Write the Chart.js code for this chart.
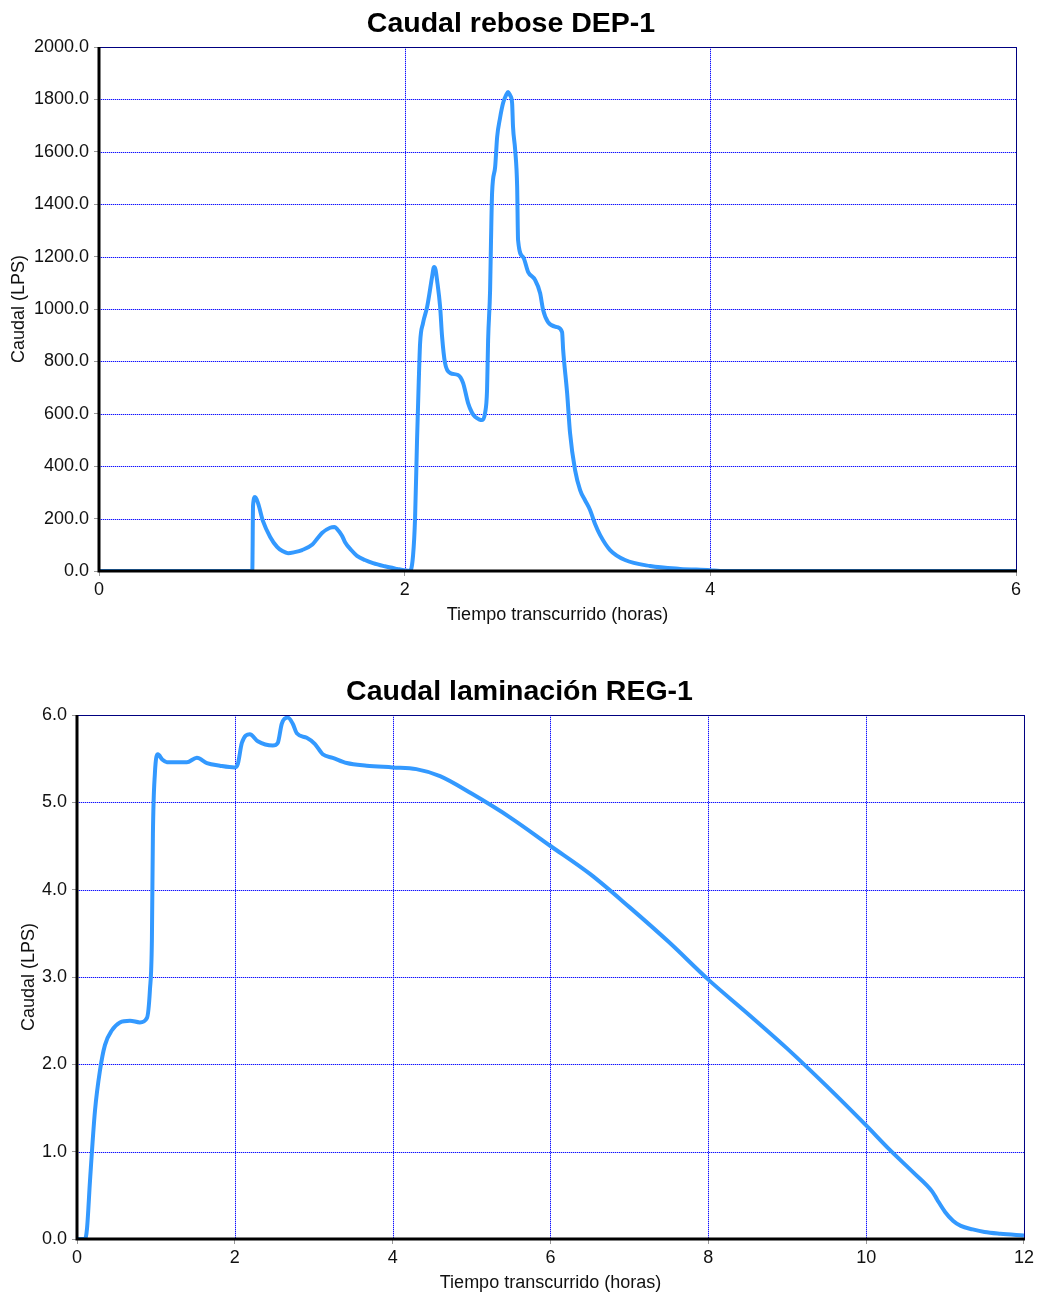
<!DOCTYPE html>
<html>
<head>
<meta charset="utf-8">
<script src="https://cdn.jsdelivr.net/npm/chart.js@4/dist/chart.umd.min.js"></script>
<style>
  body { margin: 0; background: #fff; width: 1037px; height: 1293px; position: relative; overflow: hidden; }
  canvas { position: absolute; left: 0; }
  #grafRebose { top: 0; }
  #grafLaminacion { top: 668px; }
</style>
</head>
<body>
<canvas id="grafRebose" width="1037" height="625"></canvas>
<canvas id="grafLaminacion" width="1037" height="625"></canvas>
<script>
// Caudal rebose DEP-1 (tiempo en horas, caudal en LPS)
const tiempoRebose = [
  0, 1.003, 1.008, 1.021, 1.040, 1.073, 1.120, 1.165, 1.200, 1.237, 1.280, 1.329, 1.394, 1.430, 1.459,
  1.512, 1.540, 1.558, 1.590, 1.610, 1.650, 1.688, 1.740, 1.793, 1.870, 1.950, 2.003, 2.035, 2.055,
  2.068, 2.081, 2.092, 2.101, 2.120, 2.147, 2.165, 2.179, 2.192, 2.202, 2.212, 2.232, 2.245, 2.264,
  2.297, 2.349, 2.382, 2.415, 2.440, 2.461, 2.490, 2.507, 2.526, 2.539, 2.546, 2.559, 2.565, 2.572,
  2.592, 2.605, 2.624, 2.644, 2.665, 2.677, 2.690, 2.703, 2.709, 2.723, 2.736, 2.742, 2.775, 2.808,
  2.853, 2.886, 2.906, 2.938, 2.997, 3.030, 3.037, 3.063, 3.082, 3.115, 3.148, 3.180, 3.213, 3.245,
  3.279, 3.344, 3.442, 3.606, 3.802, 3.999, 4.064, 6
];
const caudalRebose = [
  0, 0, 250, 282, 260, 190, 130, 92, 76, 68, 72, 80, 100, 125, 145,
  165, 168, 160, 135, 110, 80, 58, 42, 30, 18, 8, 2, 0, 60,
  200, 500, 720, 870, 946, 1008, 1070, 1122, 1160, 1150, 1110, 1008, 893, 794,
  756, 748, 718, 641, 605, 588, 578, 576, 603, 691, 882, 1073, 1263, 1443,
  1542, 1656, 1729, 1786, 1818, 1828, 1815, 1786, 1695, 1607, 1466, 1263, 1198, 1141,
  1111, 1061, 996, 950, 931, 912, 844, 679, 527, 385, 309, 270, 233, 180,
  137, 80, 42, 19, 8, 3, 0, 0
];

// Caudal laminación REG-1
const tiempoLaminacion = [
  0, 0.10, 0.127, 0.165, 0.228, 0.291, 0.354, 0.443, 0.544, 0.671, 0.797, 0.886, 0.924, 0.949, 0.962,
  0.987, 1.025, 1.080, 1.139, 1.392, 1.519, 1.646, 1.810, 2.000, 2.038, 2.089, 2.190, 2.291, 2.481,
  2.544, 2.595, 2.671, 2.734, 2.785, 2.911, 3.013, 3.114, 3.241, 3.418, 3.671, 4.0, 4.3, 4.6,
  5.0, 5.5, 6.0, 6.5, 7.0, 7.5, 8.0, 8.5, 9.0, 9.5, 10.0, 10.3, 10.6, 10.84,
  10.9, 11.0, 11.1, 11.2, 11.35, 11.5, 11.7, 12
];
const caudalLaminacion = [
  0, 0, 0.12, 0.67, 1.47, 1.93, 2.22, 2.39, 2.48, 2.50, 2.48, 2.53, 2.85, 3.42, 4.64,
  5.33, 5.55, 5.49, 5.46, 5.46, 5.51, 5.45, 5.42, 5.40, 5.44, 5.68, 5.78, 5.70, 5.65,
  5.68, 5.90, 5.97, 5.90, 5.79, 5.74, 5.67, 5.55, 5.51, 5.45, 5.42, 5.40, 5.38, 5.30,
  5.10, 4.82, 4.50, 4.18, 3.80, 3.40, 2.97, 2.58, 2.18, 1.75, 1.30, 1.02, 0.76, 0.54,
  0.45, 0.31, 0.21, 0.15, 0.11, 0.08, 0.06, 0.04
];

const fuente = "'Liberation Sans', Arial, sans-serif";

// Rejilla punteada azul en cada marca de los ejes
const rejilla = {
  id: 'rejilla',
  beforeDatasetsDraw(chart) {
    const { ctx, chartArea: a, scales: { x, y } } = chart;
    const trazar = () => {
      ctx.beginPath();
      x.ticks.forEach(t => {
        const px = Math.round(x.getPixelForValue(t.value)) + 0.5;
        ctx.moveTo(px, a.top);
        ctx.lineTo(px, a.bottom);
      });
      y.ticks.forEach(t => {
        const py = Math.round(y.getPixelForValue(t.value)) + 0.5;
        ctx.moveTo(a.left, py);
        ctx.lineTo(a.right, py);
      });
      ctx.stroke();
    };
    ctx.save();
    ctx.lineWidth = 1;
    // fondo tenue de la línea y después los puntos
    ctx.strokeStyle = 'rgba(90, 90, 255, 0.45)';
    trazar();
    ctx.strokeStyle = '#1010ff';
    ctx.setLineDash([1, 1]);
    trazar();
    ctx.restore();
  }
};

// Marco: borde superior/derecho azul marino, ejes izquierdo/inferior negros y gruesos
const marco = {
  id: 'marco',
  afterDatasetsDraw(chart) {
    const { ctx, chartArea: a } = chart;
    ctx.save();
    ctx.strokeStyle = '#000080';
    ctx.lineWidth = 1;
    ctx.beginPath();
    ctx.moveTo(a.left, a.top + 0.5);
    ctx.lineTo(a.right + 0.5, a.top + 0.5);
    ctx.lineTo(a.right + 0.5, a.bottom);
    ctx.stroke();
    ctx.strokeStyle = '#000';
    ctx.lineWidth = 3;
    ctx.beginPath();
    ctx.moveTo(a.left, a.top);
    ctx.lineTo(a.left, a.bottom);
    ctx.lineTo(a.right + 1, a.bottom);
    ctx.stroke();
    ctx.restore();
  }
};

function crearGrafico(id, titulo, tiempos, caudales, xMax, yMax, yPaso, padIzq, padDer, padTituloY) {
  const puntos = tiempos.map((t, i) => ({ x: t, y: caudales[i] }));
  const anchoEjeY = (id === 'grafRebose' ? 99 : 77) - padIzq;
  return new Chart(document.getElementById(id), {
    type: 'line',
    data: {
      datasets: [{
        data: puntos,
        borderColor: '#3399ff',
        borderWidth: 4,
        pointRadius: 0,
        cubicInterpolationMode: 'monotone',
        borderJoinStyle: 'round',
        fill: false
      }]
    },
    options: {
      responsive: false,
      animation: false,
      layout: { padding: { left: padIzq, right: padDer, top: 0, bottom: 0 } },
      plugins: {
        legend: { display: false },
        tooltip: { enabled: false },
        title: {
          display: true,
          text: titulo,
          color: '#000',
          font: { family: fuente, size: 28.5, weight: 'bold', lineHeight: 1.2 },
          padding: { top: 7, bottom: 5.8 }
        }
      },
      scales: {
        x: {
          type: 'linear',
          min: 0,
          max: xMax,
          afterFit: (s) => { s.height = 54; },
          ticks: { stepSize: 2, color: '#111', font: { family: fuente, size: 18 }, padding: 3, maxRotation: 0 },
          grid: { drawOnChartArea: false, tickLength: 5, tickColor: '#999' },
          border: { display: false },
          title: { display: true, text: 'Tiempo transcurrido (horas)', color: '#111',
                   font: { family: fuente, size: 18, lineHeight: 1 }, padding: { top: 0, bottom: 1 } }
        },
        y: {
          min: 0,
          max: yMax,
          afterFit: (s) => { s.width = anchoEjeY; },
          ticks: { stepSize: yPaso, color: '#111', font: { family: fuente, size: 18 }, padding: 5,
                   callback: (v) => v.toFixed(1) },
          grid: { drawOnChartArea: false, tickLength: 5, tickColor: '#999' },
          border: { display: false },
          title: { display: true, text: 'Caudal (LPS)', color: '#111',
                   font: { family: fuente, size: 18, lineHeight: 1.2 }, padding: { top: padTituloY, bottom: 0 } }
        }
      }
    },
    plugins: [rejilla, marco]
  });
}

crearGrafico('grafRebose', 'Caudal rebose DEP-1', tiempoRebose, caudalRebose, 6, 2000, 200, 6, 21, 2);
crearGrafico('grafLaminacion', 'Caudal laminación REG-1', tiempoLaminacion, caudalLaminacion, 12, 6, 1, 14, 12, 4);
</script>
</body>
</html>
